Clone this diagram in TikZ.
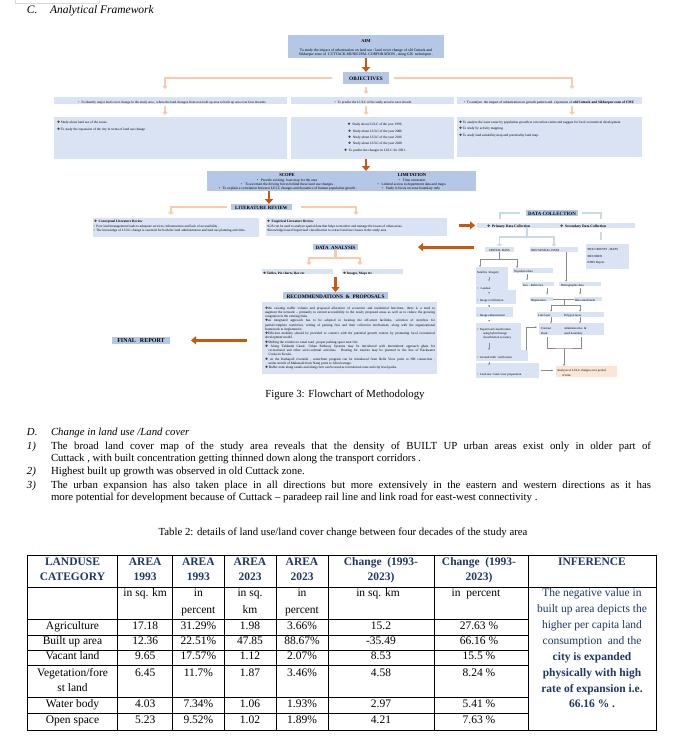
\documentclass[tikz,border=0pt]{standalone}
\usepackage{fontspec}
\setmainfont{Liberation Serif}
\newfontfamily\symf{DejaVu Sans}
\usetikzlibrary{arrows.meta}
\definecolor{cHB}{HTML}{B4C7E7}
\definecolor{cLB}{HTML}{DAE3F3}
\definecolor{cDO}{HTML}{C55A11}
\definecolor{cLO}{HTML}{F8CBAD}
\definecolor{cNV}{HTML}{1F3864}
\definecolor{cPE}{HTML}{FBE5D6}
\definecolor{cGL}{HTML}{8A8A8A}
\definecolor{cBL}{HTML}{C9D8EE}
\newcommand\fsz[1]{\fontsize{#1}{#1}\selectfont}
\newcommand\dia{{\symf ❖}}
\newcommand\trow[9]{%
  \node[tc] (#1a) at (72.5,#2) {#3};
  \node[tc] (#1b) at (145.2,#2) {#4};
  \node[tc] (#1c) at (198.4,#2) {#5};
  \node[tc] (#1d) at (250,#2) {#6};
  \node[tc] (#1e) at (302,#2) {#7};
  \node[tc] (#1f) at (381,#2) {#8};
  \node[tc] (#1g) at (479,#2) {#9};}
\tikzset{
 bx/.style={inner sep=0, outer sep=0, anchor=north west, draw=none},
 hbx/.style={bx, fill=cHB},
 lbx/.style={bx, fill=cLB},
 tx/.style={inner sep=0, outer sep=0, anchor=west, text height=0.7em, text depth=0.2em},
 tc/.style={tx, anchor=center},
 darr/.style={draw=cDO, line width=2.8pt, -{Triangle[length=5pt,width=8pt]}},
 lorr/.style={draw=cLO, line width=2.4pt, -{Triangle[length=3.2pt,width=5.5pt]}},
 lorl/.style={draw=cLO, line width=2.4pt},
 blu/.style={draw=cBL, line width=2.2pt},
 blua/.style={draw=cBL, line width=1.8pt, -{Triangle[length=2.5pt,width=4.5pt]}},
 gln/.style={draw=cGL, line width=0.45pt},
 garr/.style={draw=cGL, line width=0.45pt, -{Stealth[length=1.8pt,width=1.8pt]}},
 tbl/.style={draw=black, line width=0.9pt},
}
\begin{document}
\begin{tikzpicture}[x=1pt,y=-1pt]
\useasboundingbox (0,0) rectangle (675,740);
\fill[white] (0,0) rectangle (675,740);
\draw[black!15, line width=0.5pt] (15,-1) -- (15,3) -- (99,3) -- (99,-1);

% heading
\node[tx, font=\fsz{11.5}\itshape] (hC) at (27,11) {C.};
\node[tx, font=\fsz{11.5}\itshape] (hAF) at (50,11) {Analytical Framework};

% AIM
\node[hbx, minimum width=156, minimum height=23] (aim) at (288,35) {};
\node[tc, font=\fsz{4.5}\bfseries] (aimT) at (366,39.5) {AIM};
\node[tc, font=\fsz{3.8}] (aim1) at (366,49) {To study the impact of urbanization on land use / land cover change of old Cuttack and};
\node[tc, font=\fsz{3.8}] (aim2) at (366,53.3) {Sikharpur zone of\ \ CUTTACK MUNICIPAL CORPORATION , using GIS\ \ techniques .};

% OBJECTIVES
\node[hbx, minimum width=46, minimum height=12] (obj) at (343,72) {};
\node[tc, font=\fsz{5.3}\bfseries] (objT) at (obj.center) {OBJECTIVES};
\draw[darr] (aim.south) -- (obj.north);

\coordinate (oaL) at (165,89);
\coordinate (oaM) at (366,94);
\coordinate (oaR) at (572,89);
\draw[lorr, shorten <=11pt] (obj.west) -| (oaL);
\draw[lorr, shorten <=5pt] (obj.east) -| (oaR);
\draw[lorr, shorten <=3pt] (obj.south) -- (oaM);

% objective rows
\node[lbx, minimum width=233, minimum height=7] (objL) at (54,97) {};
\node[lbx, minimum width=163, minimum height=7] (objM) at (291,97) {};
\node[lbx, minimum width=185, minimum height=7] (objR) at (457,97) {};
\node[tc, font=\fsz{3.4}] (objLt) at (172,100.5) {•\ \ To identify major land cover change in the study area , where the land changes from non built up area to built up area over four decades};
\node[tc, font=\fsz{3.4}] (objMt) at (373,100.5) {•\ \ To predict the LULC of the study area for next decade};
\begin{scope}
\clip (457,97) rectangle (642,104);
\node[tx, font=\fsz{3.5}] (objRt) at (464,100.5) {•\ \ To analyze\ \ the impact of urbanization on growth pattern and\ \ expansion of \textbf{old Cuttack and Sikharpur zone of CMC}};
\end{scope}

% detail boxes
\node[lbx, minimum width=233, minimum height=42] (detL) at (54,117) {};
\node[lbx, minimum width=163, minimum height=42] (detM) at (291,117) {};
\node[lbx, minimum width=185, minimum height=40] (detR) at (457,117) {};
\draw[lorr, shorten <=2pt, shorten >=2pt] (objL.south -| oaL) -- (detL.north -| oaL);
\draw[lorr, shorten <=2pt, shorten >=2pt] (objM.south -| oaM) -- (detM.north -| oaM);
\draw[lorr, shorten <=2pt, shorten >=2pt] (objR.south -| oaR) -- (detR.north -| oaR);

\begin{scope}[font=\fsz{3.4}]
\node[tx] (dl1) at (57,121.3) {\dia\ Study about land use of the zones.};
\node[tx] (dl2) at (57,128) {\dia\ To study the expansion of the city in terms of land use change};
\node[tc] (dm1) at (375,123.3) {\dia\ \ Study about LULC of the year 1996.};
\node[tc] (dm2) at (375,129.7) {\dia\ \ Study about LULC of the year 2006};
\node[tc] (dm3) at (375,136) {\dia\ \ Study about LULC of the year 2016};
\node[tc] (dm4) at (375,142.3) {\dia\ \ Study about LULC of the year 2020};
\node[tc] (dm5) at (375,149) {\dia\ \ To predict the changes in LULC for 2031.};
\node[tx] (dr1) at (459,121) {\dia\ To analyze the issue cause by population growth at core urban centre and suggest for local economical development};
\node[tx] (dr2) at (459,127.3) {\dia\ To study by activity mapping.};
\node[tx] (dr3) at (459,134) {\dia\ To study land suitability map and potentiality land map.};
\end{scope}

% SCOPE / LIMITATION
\node[hbx, minimum width=269, minimum height=20] (scope) at (207,171) {};
\draw[darr] (detM.south -| aim.south) -- (scope.north -| aim.south);
\node[tc, font=\fsz{4.6}\bfseries] (scT) at (287,174.3) {SCOPE};
\node[tc, font=\fsz{4.6}\bfseries] (liT) at (412,174.3) {LIMITATION};
\begin{scope}[font=\fsz{3.6}]
\node[tc] (sc1) at (287,179) {•\ \ \ Provide existing. base map for the area};
\node[tc] (sc2) at (288,183.2) {•\ \ \ To ascertain the driving forces behind these land use changes .};
\node[tc] (sc3) at (288,187.4) {•\ \ \ To explain a correlation between LULC changes and dynamics of human population growth .};
\node[tc] (li1) at (412,179) {•\ \ \ Time constraint};
\node[tc] (li2) at (412,183.2) {•\ \ \ Limited\ access to department data and maps.};
\node[tc] (li3) at (411,187.4) {•\ \ \ Study is focus on zone boundary only};
\end{scope}

% LITERATURE REVIEW
\node[hbx, minimum width=61, minimum height=6.3] (lit) at (231,204) {};
\node[tc, font=\fsz{4.8}\bfseries] (litT) at (lit.center) {LITERATURE REVIEW};
\coordinate (s2l) at (269,191);
\draw[darr] (s2l) -- (s2l |- lit.north);
\coordinate (llL) at (171,215);
\coordinate (llR) at (356,215);
\draw[lorr, shorten <=4pt] (lit.west) -| (llL);
\draw[lorr, shorten <=9pt] (lit.east) -| (llR);
\node[lbx, minimum width=166, minimum height=19] (litL) at (93,218) {};
\node[lbx, minimum width=181, minimum height=18] (litR) at (266,218) {};
\begin{scope}[font=\fsz{3.4}]
\node[tx] (ll1) at (94,220.3) {\bfseries\dia\ \ Conceptual Literature Review};
\node[tx] (ll2) at (93.5,224.7) {•\ \ Poor land management leads to adequate services, infrastructure and lack of accessibility .};
\node[tx] (ll3) at (93.5,229) {•\ \ The knowledge of LULC change is essential for both the land administration and land use planning activities.};
\node[tx] (lr1) at (267,220.3) {\bfseries\dia\ \ Empirical Literature Review};
\node[tx] (lr2) at (267,224.7) {•GIS can be used to analyze spatial data that helps to monitor and manage the issues of urban areas.};
\node[tx] (lr3) at (267,229) {•Knowledge based Supervised classification to extract land use classes in the study area};
\end{scope}

% DATA ANALYSIS
\node[hbx, minimum width=45, minimum height=6.3] (da) at (313,244) {};
\node[tc, font=\fsz{4.9}\bfseries] (daT) at (da.center) {DATA\ \ ANALYSIS};
\coordinate (daJ) at (335.5,258);
\coordinate (daL) at (309,265);
\coordinate (daR) at (360,265);
\draw[lorl] (da.south) -- (daJ);
\draw[lorr] (daJ) -| (daL);
\draw[lorr] (daJ) -| (daR);
\node[lbx, minimum width=71, minimum height=5] (tab) at (262,269) {};
\node[lbx, minimum width=61, minimum height=5] (imgs) at (342,269) {};
\node[tx, font=\fsz{3.4}\bfseries] (tabT) at (263,271.5) {\dia\ Tables, Pie charts, Bar etc};
\node[tx, font=\fsz{3.4}\bfseries] (imgT) at (343,271.5) {\dia\ Images, Maps etc};

% RECOMMENDATIONS
\node[hbx, minimum width=105, minimum height=7] (rech) at (283,292) {};
\node[tc, font=\fsz{5.3}\bfseries] (rechT) at (rech.center) {RECOMMENDATIONS\ \ \&\ \ PROPOSALS};
\coordinate (tr) at (335.5,277);
\draw[darr] (tr) -- (tr |- rech.north);
\node[lbx, minimum width=175, minimum height=72] (rec) at (262,302) {};
\begin{scope}[font=\fsz{3.4}]
\node[tx] (r1) at (265,306.7) {\makebox[170pt][s]{\dia the existing traffic volume and proposed allocation of economic and residential functions, there is a need to}};
\node[tx] (r2) at (265,310.9) {\makebox[170pt][s]{augment the network -- primarily to extend accessibility to the newly proposed areas as well as to reduce the growing}};
\node[tx] (r3) at (265,315.2) {congestion in the existing links.};
\node[tx] (r4) at (265,319.4) {\makebox[170pt][s]{\dia an integrated approach has to be adopted in locating the off-street facilities, selection of stretches for}};
\node[tx] (r5) at (265,323.7) {\makebox[170pt][s]{partial/complete restriction, setting of parking fees and their collection mechanism, along with the organizational}};
\node[tx] (r6) at (265,327.9) {framework to implement it.};
\node[tx] (r7) at (265,332.1) {\makebox[170pt][s]{\dia Efficient mobility should be provided to connect with the potential growth centers by promoting local economical}};
\node[tx] (r8) at (265,336.4) {development model.};
\node[tx] (r9) at (265,340.6) {\dia Shifting the vendors to canal road , proper parking space near fort.};
\node[tx] (r10) at (265,344.9) {\makebox[170pt][s]{\dia\ Along Taldanda Canal, Urban Pathway Systems may be introduced with intermittent approach ghats for}};
\node[tx] (r11) at (268.7,349.1) {\makebox[166.3pt][s]{recreational and other socio-cultural activities. Boating for tourists may be planned in the line of Backwater}};
\node[tx] (r12) at (268.7,353.3) {Cruise in Kerala.};
\node[tx] (r13) at (265,357.6) {\makebox[170pt][s]{\dia\ on the Kathajodi riverside , waterfront program can be introduced from Belle View point to NH connection ,}};
\node[tx] (r14) at (268.7,361.8) {under stretch of Mahanadi from Naraj point to Jobra barrage.};
\node[tx] (r15) at (265,366.1) {\dia\ Buffer zone along canals and along river can be used as recreational zone and city level parks.};
\end{scope}

% FINAL REPORT
\node[hbx, minimum width=58, minimum height=7.3] (fr) at (112,336.7) {};
\node[tc, font=\fsz{6}\bfseries] (frT) at (fr.center) {FINAL\hspace{4pt}REPORT};
\draw[darr, shorten <=15pt, shorten >=21pt] (rec.west |- fr.east) -- (fr.east);

% DATA COLLECTION
\node[hbx, minimum width=52, minimum height=5.7] (dc) at (526,210) {};
\node[tc, font=\fsz{4.9}\bfseries] (dcT) at (dc.center) {DATA COLLECTION};
\coordinate (dcL) at (500,219);
\coordinate (dcR) at (601,219);
\draw[blu, shorten <=6pt] (dc.west) -| (dcL);
\draw[blu, shorten <=4pt] (dc.east) -| (dcR);
\node[lbx, minimum width=158, minimum height=5.3] (pdc) at (477,222.7) {};
\node[tx, font=\fsz{3.6}\bfseries] (pdcT) at (487,225.3) {\dia\ \ Primary Data Collection};
\node[tx, font=\fsz{3.6}\bfseries] (sdcT) at (560,225.3) {\dia\ \ Secondary Data Collection};
\draw[darr, shorten <=12pt, shorten >=2pt] (litR.east |- pdc.west) -- (pdc.west);

\node[lbx, minimum width=29, minimum height=5] (sp) at (485,246.7) {};
\node[lbx, minimum width=48, minimum height=5] (nsp) at (530,246.7) {};
\node[lbx, minimum width=43, minimum height=25.3] (sec) at (586,243.7) {};
\coordinate (pJ) at (527,237);
\draw[blu, line width=1.8pt] (pdc.south -| pJ) -- (pJ);
\draw[blua] (pJ) -| (sp.north);
\draw[blua] (pJ) -| (nsp.north);
\coordinate (sL) at (601,232);
\coordinate (sL2) at (601,240);
\draw[blu] (sL) -- (sL2);
\begin{scope}[font=\fsz{3.1}]
\node[tc] (spT) at (sp.center) {SPATIAL DATA};
\node[tx] (nspT) at (531,249.2) {NON SPATIAL DATA};
\node[tx] (sec1) at (587,248.3) {•DOCUMENTS , MAPS};
\node[tx] (sec2) at (587,254.7) {•RECORDS};
\node[tx] (sec3) at (587,261) {•CDPs Report};
\end{scope}
\draw[darr, shorten <=11pt, shorten >=60pt] (sp.west |- da.east) -- (da.east);

% spatial branch
\coordinate (sJ) at (499.5,259.3);
\coordinate (sa1) at (480,267);
\coordinate (sa2) at (517,268);
\draw[gln] (sp.south) -- (sJ);
\draw[garr] (sJ) -| (sa1);
\draw[garr] (sJ) -| (sa2);

% satellite column
\node[lbx, minimum width=32, minimum height=25] (c1) at (476,267) {};
\node[lbx, minimum width=40, minimum height=14] (c2) at (476,290) {};
\node[lbx, minimum width=37, minimum height=10] (c3) at (476,307) {};
\node[lbx, minimum width=45, minimum height=27] (c4) at (476,323) {};
\node[lbx, minimum width=52, minimum height=11] (c5) at (476,350) {};
\node[lbx, minimum width=63, minimum height=15] (c6) at (476,363) {};
\begin{scope}[font=\fsz{3.1}]
\node[tx] (tSat) at (477,270.7) {Satellite\ \ Imagery};
\node[tx] (tLan) at (477.3,286.7) {•\ \ \ Landsat};
\node[tx] (tRec) at (477.3,299.3) {•\ \ Image rectification};
\node[tx] (tEnh) at (477.3,314.3) {•\ \ Image enhancement};
\node[tx] (tSup) at (477.3,327.7) {•\ \ Supervised classification};
\node[tx] (tSup2) at (483,332) {using hybrid image};
\node[tx] (tSup3) at (483,336.3) {classification accuracy};
\node[tx] (tGro) at (477.3,356) {•\ \ Ground truth\ \ verification};
\node[tx] (tLuc) at (477.3,372.7) {•\ \ Land use / land cover preparation};
\end{scope}
\coordinate (ax) at (489,0);
\draw[garr, shorten <=1.5pt, shorten >=1pt] (ax |- tSat.south) -- (ax |- tLan.north);
\draw[garr, shorten <=1.5pt, shorten >=1pt] (ax |- tLan.south) -- (ax |- tRec.north);
\draw[garr, shorten <=2pt, shorten >=3pt] (ax |- tRec.south) -- (ax |- tEnh.north);
\draw[garr, shorten <=1.5pt, shorten >=1.5pt] (ax |- tEnh.south) -- (ax |- tSup.north);
\draw[garr, shorten <=2pt, shorten >=1.5pt] (ax |- tSup3.south) -- (ax |- tGro.north);
\draw[garr, shorten <=1.5pt, shorten >=3pt] (ax |- tGro.south) -- (ax |- tLuc.north);

% right column
\node[lbx, minimum width=40, minimum height=4.5] (topo) at (513,268) {};
\node[lbx, minimum width=32, minimum height=4.5] (geo) at (522,281.7) {};
\node[lbx, minimum width=42, minimum height=4.5] (dem) at (559,281.7) {};
\node[lbx, minimum width=23, minimum height=4] (dig) at (530,297.3) {};
\node[lbx, minimum width=28, minimum height=4] (dat) at (574,297.3) {};
\node[lbx, minimum width=67, minimum height=5] (lay) at (537,311.7) {};
\node[lbx, minimum width=65, minimum height=11.4] (cont) at (539,323.3) {};
\node[bx, fill=cPE, minimum width=61, minimum height=11] (res) at (556,366) {};
\begin{scope}[font=\fsz{3.1}]
\node[tx] (tTopo) at (514,270.3) {Toposheet\ data};
\node[tx] (tGeo) at (523,284) {Geo - Reference};
\node[tx] (tDem) at (561,284) {Demographic data};
\node[tx] (tDig) at (531,299.3) {Digitization};
\node[tx] (tDat) at (575,299.3) {Data attachment};
\node[tx] (tLine) at (538,314.2) {Line layer};
\node[tx] (tPoly) at (564,314.2) {Polygon layer};
\node[tx] (tCont) at (541,327) {Contour};
\node[tx] (tRoad) at (541,331.7) {Road};
\node[tx] (tAdm) at (564,327) {Administrative\ \ \&};
\node[tx] (tWard) at (564,331.7) {ward boundary};
\node[tx] (tRes1) at (557,369.3) {Analysis of LULC changes over period};
\node[tx] (tRes2) at (562,373.6) {of time};
\end{scope}
\coordinate (nsA) at (566,252);
\draw[garr] (nsA) -- (nsA |- dem.north);
\coordinate (tg) at (527,0);
\coordinate (gd) at (547,0);
\coordinate (dd) at (580,0);
\coordinate (c551) at (551,0);
\coordinate (c580) at (580,0);
\draw[garr, shorten <=1.5pt, shorten >=1.5pt] (tg |- topo.south) -- (tg |- geo.north);
\draw[garr, shorten <=1.5pt, shorten >=3pt] (gd |- geo.south) -- (gd |- dig.north);
\draw[garr, shorten <=1.5pt, shorten >=3pt] (dd |- dem.south) -- (dd |- dat.north);
\coordinate (dj) at (564,299.3);
\coordinate (dj2) at (564,305.7);
\draw[gln] (dig.east) -- (dat.west);
\draw[gln] (dj) -- (dj2);
\draw[garr] (dj2) -| (c551 |- lay.north);
\draw[garr] (dj2) -| (c580 |- lay.north);
\draw[garr, shorten <=0.5pt] (c551 |- lay.south) -- (c551 |- cont.north);
\draw[garr, shorten <=0.5pt] (c580 |- lay.south) -- (c580 |- cont.north);
\coordinate (bL) at (547,337);
\coordinate (bR) at (581,337);
\coordinate (bj) at (564,348);
\draw[gln] (bL) |- (bj) -| (bR);
\draw[garr] (bj) -- (bj |- res.north);
\coordinate (gt1) at (526,350);
\draw[garr, shorten >=2pt] (gt1) |- (cont.west |- tCont.west);
\draw[garr, shorten <=2pt, shorten >=3pt] (c6.east) -- (res.west |- c6.east);

% body text
\node[tc, font=\fsz{10.8}] (figcap) at (345,395) {Figure 3: Flowchart of Methodology};
\begin{scope}[font=\fsz{10.8}]
\node[tx] (dD) at (27,433) {\itshape D.};
\node[tx] (dT) at (51,433) {\itshape Change in land use /Land cover};
\node[tx] (n1) at (27,446.7) {\itshape 1)};
\node[tx] (l1a) at (51,446.7) {\makebox[600pt][s]{The broad land cover map of the study area reveals that the density of BUILT UP urban areas exist only in older part of}};
\node[tx] (l1b) at (51,459.3) {Cuttack , with built concentration getting thinned down along the transport corridors .};
\node[tx] (n2) at (27,472) {\itshape 2)};
\node[tx] (l2) at (51,472) {Highest built up growth was observed in old Cuttack zone.};
\node[tx] (n3) at (27,485.6) {\itshape 3)};
\node[tx] (l3a) at (51,485.6) {\makebox[600pt][s]{The urban expansion has also taken place in all directions but more extensively in the eastern and western directions as it has}};
\node[tx] (l3b) at (51,498.3) {more potential for development because of Cuttack -- paradeep rail line and link road for east-west connectivity .};
\node[tc] (tcap) at (343,533) {Table 2: details of land use/land cover change between four decades of the study area};
\end{scope}

% table
\draw[tbl] (27.3,555) rectangle (656,730);
\foreach \cx in {117.7,172.7,224,276,328,434,528} \draw[tbl] (\cx,555) -- (\cx,730);
\draw[tbl] (27.3,587.7) -- (656,587.7);
\foreach \ry in {619.3,635.7,650,665,697.7,713.3} \draw[tbl] (27.3,\ry) -- (528,\ry);
\begin{scope}[font=\fsz{11.5}]
\begin{scope}[font=\fsz{11.5}\bfseries, text=cNV]
\trow{h1}{562.7}{LANDUSE}{AREA}{AREA}{AREA}{AREA}{Change\ \ (1993-}{Change\ \ (1993-}
\trow{h2}{578.3}{CATEGORY}{1993}{1993}{2023}{2023}{2023)}{2023)}
\node[tc] (hInf) at (592,562.7) {INFERENCE};
\end{scope}
\node[tc] (u2) at (145.2,594.3) {in sq. km};
\node[tc] (u3) at (198.4,594.3) {in};
\node[tc] (u3b) at (198.4,610.5) {percent};
\node[tc] (u4) at (250,594.3) {in sq.};
\node[tc] (u4b) at (250,610.5) {km};
\node[tc] (u5) at (302,594.3) {in};
\node[tc] (u5b) at (302,610.5) {percent};
\node[tc] (u6) at (378,594.3) {in sq. km};
\node[tc] (u7) at (476,594.3) {in\ \ percent};
\trow{ra}{626.5}{Agriculture}{17.18}{31.29\%}{1.98}{3.66\%}{15.2}{27.63 \%}
\trow{rb}{641.9}{Built up area}{12.36}{22.51\%}{47.85}{88.67\%}{-35.49}{66.16 \%}
\trow{rc}{657.3}{Vacant land}{9.65}{17.57\%}{1.12}{2.07\%}{8.53}{15.5 \%}
\trow{rd}{674}{Vegetation/fore}{6.45}{11.7\%}{1.87}{3.46\%}{4.58}{8.24 \%}
\node[tc] (rd2) at (72.5,689.3) {st land};
\trow{re}{705.3}{Water body}{4.03}{7.34\%}{1.06}{1.93\%}{2.97}{5.41 \%}
\trow{rf}{721.3}{Open space}{5.23}{9.52\%}{1.02}{1.89\%}{4.21}{7.63 \%}
\begin{scope}[text=cNV]
\node[tc] (i1) at (592,594.3) {The negative value in};
\node[tc] (i2) at (592,610.3) {built up area depicts the};
\node[tc] (i3) at (592,626.3) {higher per capita land};
\node[tc] (i4) at (592,642) {consumption\ \ and the};
\node[tc, font=\fsz{11.5}\bfseries] (i5) at (592,657.5) {city is expanded};
\node[tc, font=\fsz{11.5}\bfseries] (i6) at (592,674) {physically with high};
\node[tc, font=\fsz{11.5}\bfseries] (i7) at (592,689.5) {rate of expansion i.e.};
\node[tc, font=\fsz{11.5}\bfseries] (i8) at (592,705.3) {66.16 \% .};
\end{scope}
\end{scope}
\end{tikzpicture}
\end{document}
